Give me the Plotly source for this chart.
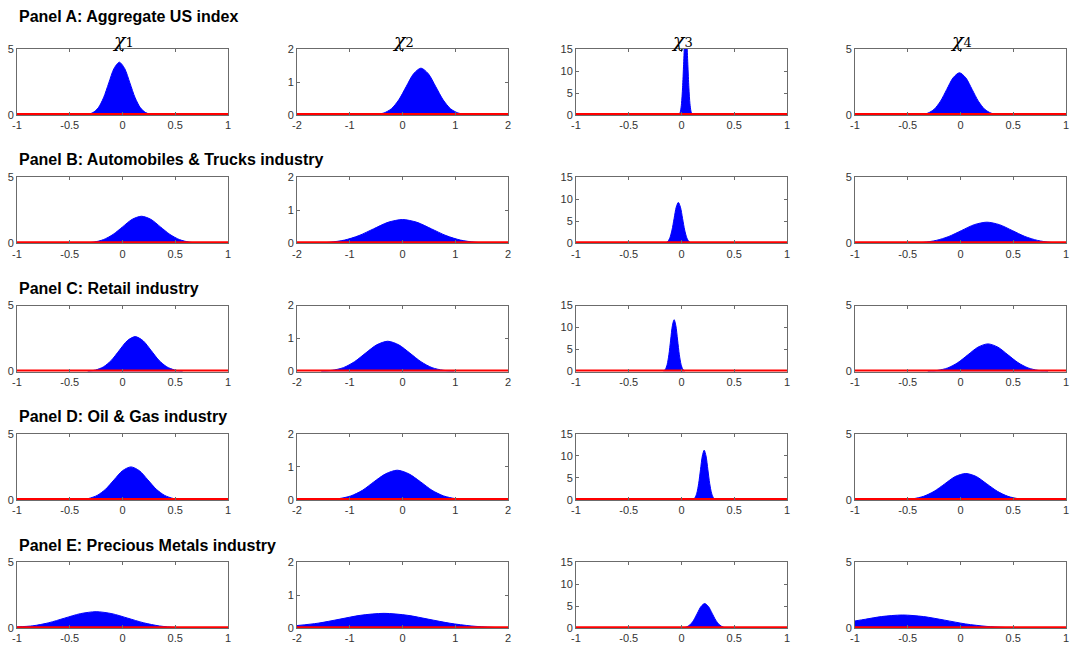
import plotly.graph_objects as go

# ---- labels and axis settings ----
panel_titles = [
    "Panel A: Aggregate US index",
    "Panel B: Automobiles & Trucks industry",
    "Panel C: Retail industry",
    "Panel D: Oil & Gas industry",
    "Panel E: Precious Metals industry",
]
param_symbol = "χ"
param_index = ["1", "2", "3", "4"]
x_ranges = [[-1, 1], [-2, 2], [-1, 1], [-1, 1]]
y_ranges = [[0, 5], [0, 2], [0, 15], [0, 5]]
x_tickvals = [[-1, -0.5, 0, 0.5, 1], [-2, -1, 0, 1, 2], [-1, -0.5, 0, 0.5, 1], [-1, -0.5, 0, 0.5, 1]]
x_ticktext = [["-1", "-0.5", "0", "0.5", "1"], ["-2", "-1", "0", "1", "2"],
              ["-1", "-0.5", "0", "0.5", "1"], ["-1", "-0.5", "0", "0.5", "1"]]
y_tickvals = [[0, 5], [0, 1, 2], [0, 5, 10, 15], [0, 5]]
prior_level = [0.0, 0.0, 0.0, 0.0]

# ---- posterior densities (x grid, density) ----
a1_x = [-0.33, -0.28, -0.23, -0.18, -0.13, -0.08, -0.03, 0.02, 0.07, 0.12, 0.17, 0.22, 0.27]
a1_y = [0.04, 0.18, 0.54, 1.30, 2.43, 3.53, 4.0, 3.53, 2.43, 1.30, 0.54, 0.18, 0.04]
a2_x = [-0.49, -0.35, -0.21, -0.07, 0.07, 0.21, 0.35, 0.49, 0.63, 0.77, 0.91, 1.05, 1.19]
a2_y = [0.016, 0.062, 0.19, 0.46, 0.86, 1.25, 1.42, 1.25, 0.86, 0.46, 0.19, 0.062, 0.016]
a3_x = [-0.02, -0.01, 0.0, 0.01, 0.02, 0.03, 0.04, 0.05, 0.06, 0.07, 0.08, 0.09, 0.10]
a3_y = [0.21, 0.83, 2.57, 6.17, 11.52, 16.77, 19.0, 16.77, 11.52, 6.17, 2.57, 0.83, 0.21]
a4_x = [-0.37, -0.31, -0.25, -0.19, -0.13, -0.07, -0.01, 0.05, 0.11, 0.17, 0.23, 0.29, 0.35]
a4_y = [0.036, 0.14, 0.43, 1.04, 1.94, 2.82, 3.2, 2.82, 1.94, 1.04, 0.43, 0.14, 0.036]

b1_x = [-0.36, -0.27, -0.18, -0.09, 0.0, 0.09, 0.18, 0.27, 0.36, 0.45, 0.54, 0.63, 0.72]
b1_y = [0.023, 0.09, 0.28, 0.67, 1.24, 1.81, 2.05, 1.81, 1.24, 0.67, 0.28, 0.09, 0.023]
b2_x = [-1.65, -1.375, -1.1, -0.825, -0.55, -0.275, 0.0, 0.275, 0.55, 0.825, 1.1, 1.375, 1.65]
b2_y = [0.008, 0.032, 0.097, 0.234, 0.437, 0.635, 0.72, 0.635, 0.437, 0.234, 0.097, 0.032, 0.008]
b3_x = [-0.15, -0.13, -0.11, -0.09, -0.07, -0.05, -0.03, -0.01, 0.01, 0.03, 0.05, 0.07, 0.09]
b3_y = [0.10, 0.41, 1.26, 3.02, 5.64, 8.21, 9.3, 8.21, 5.64, 3.02, 1.26, 0.41, 0.10]
b4_x = [-0.47, -0.35, -0.23, -0.11, 0.01, 0.13, 0.25, 0.37, 0.49, 0.61, 0.73, 0.85, 0.97]
b4_y = [0.018, 0.07, 0.22, 0.52, 0.97, 1.41, 1.6, 1.41, 0.97, 0.52, 0.22, 0.07, 0.018]

c1_x = [-0.33, -0.255, -0.18, -0.105, -0.03, 0.045, 0.12, 0.195, 0.27, 0.345, 0.42, 0.495, 0.57]
c1_y = [0.03, 0.12, 0.36, 0.86, 1.61, 2.34, 2.65, 2.34, 1.61, 0.86, 0.36, 0.12, 0.03]
c2_x = [-1.54, -1.33, -1.12, -0.91, -0.7, -0.49, -0.28, -0.07, 0.14, 0.35, 0.56, 0.77, 0.98]
c2_y = [0.01, 0.04, 0.12, 0.30, 0.56, 0.81, 0.92, 0.81, 0.56, 0.30, 0.12, 0.04, 0.01]
c3_x = [-0.169, -0.1525, -0.136, -0.1195, -0.103, -0.0865, -0.07, -0.0535, -0.037, -0.0205, -0.004, 0.0125, 0.029]
c3_y = [0.13, 0.52, 1.60, 3.83, 7.16, 10.41, 11.8, 10.41, 7.16, 3.83, 1.60, 0.52, 0.13]
c4_x = [-0.31, -0.215, -0.12, -0.025, 0.07, 0.165, 0.26, 0.355, 0.45, 0.545, 0.64, 0.735, 0.83]
c4_y = [0.023, 0.092, 0.28, 0.68, 1.27, 1.85, 2.1, 1.85, 1.27, 0.68, 0.28, 0.092, 0.023]

d1_x = [-0.4, -0.32, -0.24, -0.16, -0.08, 0.0, 0.08, 0.16, 0.24, 0.32, 0.4, 0.48, 0.56]
d1_y = [0.028, 0.11, 0.34, 0.81, 1.52, 2.21, 2.5, 2.21, 1.52, 0.81, 0.34, 0.11, 0.028]
d2_x = [-1.42, -1.2, -0.98, -0.76, -0.54, -0.32, -0.1, 0.12, 0.34, 0.56, 0.78, 1.0, 1.22]
d2_y = [0.01, 0.04, 0.12, 0.29, 0.55, 0.79, 0.9, 0.79, 0.55, 0.29, 0.12, 0.04, 0.01]
d3_x = [0.11, 0.1275, 0.145, 0.1625, 0.18, 0.1975, 0.215, 0.2325, 0.25, 0.2675, 0.285, 0.3025, 0.32]
d3_y = [0.13, 0.50, 1.53, 3.67, 6.85, 9.97, 11.3, 9.97, 6.85, 3.67, 1.53, 0.50, 0.13]
d4_x = [-0.55, -0.45, -0.35, -0.25, -0.15, -0.05, 0.05, 0.15, 0.25, 0.35, 0.45, 0.55, 0.65]
d4_y = [0.022, 0.088, 0.27, 0.65, 1.21, 1.77, 2.0, 1.77, 1.21, 0.65, 0.27, 0.088, 0.022]

e1_x = [-1.0, -0.85, -0.7, -0.55, -0.4, -0.25, -0.1, 0.05, 0.2, 0.35, 0.5, 0.65]
e1_y = [0.10, 0.18, 0.41, 0.76, 1.10, 1.25, 1.10, 0.76, 0.41, 0.17, 0.055, 0.014]
e2_x = [-2.0, -1.6, -1.2, -0.8, -0.35, 0.1, 0.5, 0.9, 1.3, 1.7, 2.0]
e2_y = [0.08, 0.152, 0.27, 0.39, 0.45, 0.39, 0.27, 0.15, 0.068, 0.025, 0.01]
e3_x = [0.01, 0.045, 0.08, 0.115, 0.15, 0.185, 0.22, 0.255, 0.29, 0.325, 0.36, 0.395, 0.43]
e3_y = [0.06, 0.25, 0.76, 1.82, 3.40, 4.94, 5.6, 4.94, 3.40, 1.82, 0.76, 0.25, 0.06]
e4_x = [-1.0, -0.9, -0.75, -0.55, -0.35, -0.15, 0.05, 0.25, 0.45]
e4_y = [0.55, 0.68, 0.88, 1.0, 0.88, 0.61, 0.32, 0.135, 0.044]

densities = [
    [(a1_x, a1_y), (a2_x, a2_y), (a3_x, a3_y), (a4_x, a4_y)],
    [(b1_x, b1_y), (b2_x, b2_y), (b3_x, b3_y), (b4_x, b4_y)],
    [(c1_x, c1_y), (c2_x, c2_y), (c3_x, c3_y), (c4_x, c4_y)],
    [(d1_x, d1_y), (d2_x, d2_y), (d3_x, d3_y), (d4_x, d4_y)],
    [(e1_x, e1_y), (e2_x, e2_y), (e3_x, e3_y), (e4_x, e4_y)],
]

# ---- geometry (pixels) ----
W, H = 1070, 645
col_left = [17, 297, 576, 855]
col_w = 211
row_top = [49, 177.3, 305.6, 433.9, 562.2]
row_h = 66
title_y = [16, 159, 288, 416, 545]

AX_COLOR = "#6b6b6b"
TICK_FONT = dict(family="Liberation Sans, Arial, sans-serif", size=11, color="#333333")

fig = go.Figure()
layout_axes = {}
annotations = []

for r in range(5):
    for c in range(4):
        k = r * 4 + c + 1
        xname = "x" if k == 1 else f"x{k}"
        yname = "y" if k == 1 else f"y{k}"
        xs, ys = densities[r][c]
        fig.add_trace(go.Scatter(
            x=xs, y=ys, xaxis=xname, yaxis=yname, mode="lines",
            line=dict(color="#0000ff", width=1, shape="spline", smoothing=0.8),
            fill="tozeroy", fillcolor="#0000ff", showlegend=False, hoverinfo="skip",
        ))
        fig.add_trace(go.Scatter(
            x=x_ranges[c], y=[prior_level[c], prior_level[c]], xaxis=xname, yaxis=yname,
            mode="lines", line=dict(color="#ff0000", width=4),
            showlegend=False, hoverinfo="skip",
        ))
        x0 = col_left[c] / W
        x1 = (col_left[c] + col_w) / W
        y1 = 1 - row_top[r] / H
        y0 = 1 - (row_top[r] + row_h) / H
        xkey = "xaxis" if k == 1 else f"xaxis{k}"
        ykey = "yaxis" if k == 1 else f"yaxis{k}"
        layout_axes[xkey] = dict(
            domain=[x0, x1], anchor=yname, range=x_ranges[c], automargin=False,
            tickvals=x_tickvals[c], ticktext=x_ticktext[c],
            showline=True, linecolor=AX_COLOR, linewidth=1, mirror="ticks",
            ticks="inside", ticklen=3, tickcolor=AX_COLOR,
            showgrid=False, zeroline=False, tickfont=TICK_FONT, fixedrange=True,
        )
        layout_axes[ykey] = dict(
            domain=[y0, y1], anchor=xname, range=y_ranges[c], automargin=False,
            tickvals=y_tickvals[c],
            showline=True, linecolor=AX_COLOR, linewidth=1, mirror="ticks",
            ticks="inside", ticklen=3, tickcolor=AX_COLOR,
            showgrid=False, zeroline=False, tickfont=TICK_FONT, fixedrange=True,
        )
    annotations.append(dict(
        text=f"<b>{panel_titles[r]}</b>", xref="paper", yref="paper",
        x=col_left[0] / W, y=1 - title_y[r] / H,
        xanchor="left", yanchor="middle", showarrow=False,
        font=dict(family="Liberation Sans, Arial, sans-serif", size=16, color="#000000"),
    ))

# parameter names above the first row
for c in range(4):
    annotations.append(dict(
        text=f"<i>{param_symbol}</i><span style='font-size:13px'>{param_index[c]}</span>",
        xref="paper", yref="paper",
        x=(col_left[c] + col_w / 2) / W, y=1 - 40 / H,
        xanchor="center", yanchor="middle", showarrow=False,
        font=dict(family="DejaVu Serif, Liberation Serif, serif", size=19, color="#000000"),
    ))

fig.update_layout(
    width=W, height=H, margin=dict(l=0, r=0, t=0, b=0),
    paper_bgcolor="#ffffff", plot_bgcolor="#ffffff",
    annotations=annotations, **layout_axes,
)

fig.write_html("out.html")
